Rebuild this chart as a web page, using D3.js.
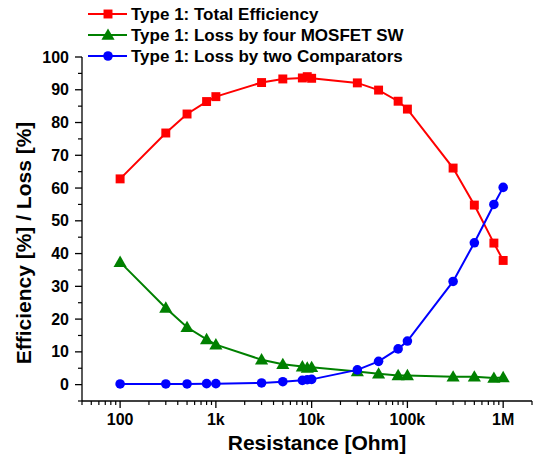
<!DOCTYPE html>
<html>
<head>
<meta charset="utf-8">
<script src="https://cdn.jsdelivr.net/npm/d3@7"></script>
<style>
  body { margin: 0; background: #fff; }
  svg { display: block; font-family: 'Liberation Sans', Arial, sans-serif; font-weight: bold; }
</style>
</head>
<body>
<svg id="chart" width="548" height="463"></svg>
<script>
// data
const resistance = [100, 300, 500, 800, 1e3, 3e3, 5e3, 8e3, 9e3, 1e4, 3e4, 5e4, 8e4, 1e5, 3e5, 5e5, 8e5, 1e6];
const totalEfficiency = [62.8, 76.8, 82.6, 86.4, 87.9, 92.2, 93.3, 93.6, 94.0, 93.5, 92.1, 89.9, 86.5, 84.1, 66.1, 54.8, 43.2, 37.9];
const lossMosfet = [37.4, 23.4, 17.5, 13.8, 12.2, 7.6, 6.2, 5.5, 5.1, 5.3, 4.0, 3.3, 2.8, 2.8, 2.4, 2.4, 2.0, 2.2];
const lossComparators = [0.2, 0.2, 0.2, 0.3, 0.3, 0.5, 0.9, 1.3, 1.5, 1.6, 4.5, 7.1, 10.9, 13.3, 31.5, 43.3, 55.0, 60.2];

const seriesNames = ['Type 1: Total Efficiency', 'Type 1: Loss by four MOSFET SW', 'Type 1: Loss by two Comparators'];
const seriesColors = ['#ff0000', '#008000', '#0000ff'];
const seriesShapes = [d3.symbolSquare, d3.symbolTriangle, d3.symbolCircle];
const xTickLabels = ['100', '1k', '10k', '100k', '1M'];
const yTicks = [0, 10, 20, 30, 40, 50, 60, 70, 80, 90, 100];

const series = [totalEfficiency, lossMosfet, lossComparators].map((vals, i) => ({
  name: seriesNames[i],
  color: seriesColors[i],
  shape: seriesShapes[i],
  points: vals.map((v, j) => ({ x: resistance[j], y: v })),
}));

const svg = d3.select('#chart');
const margin = { left: 82, right: 16, top: 57, bottom: 62 };
const W = 548, H = 463;

const x = d3.scaleLog().domain([40, 2e6]).range([margin.left, W - margin.right]);
const y = d3.scaleLinear().domain([-5, 100]).range([H - margin.bottom, margin.top]);

// x axis
const xMajor = [100, 1e3, 1e4, 1e5, 1e6];
const xMinor = [];
for (let d = 10; d <= 1e6; d *= 10) {
  for (let k = 2; k <= 9; k++) {
    const v = d * k;
    if (v >= 40 && v <= 2e6) xMinor.push(v);
  }
}
const gx = svg.append('g').attr('transform', `translate(0,${y(-5)})`);
gx.append('line')
  .attr('x1', x.range()[0]).attr('x2', x.range()[1])
  .attr('stroke', '#000').attr('stroke-width', 1.3);
gx.selectAll('.minor').data(xMinor).enter().append('line')
  .attr('x1', d => x(d)).attr('x2', d => x(d)).attr('y1', 0).attr('y2', 4)
  .attr('stroke', '#000').attr('stroke-width', 1.2);
gx.selectAll('.major').data(xMajor).enter().append('line')
  .attr('x1', d => x(d)).attr('x2', d => x(d)).attr('y1', 0).attr('y2', 7)
  .attr('stroke', '#000').attr('stroke-width', 1.3);
gx.selectAll('text').data(xMajor).enter().append('text')
  .attr('x', d => x(d)).attr('y', 23.5)
  .attr('text-anchor', 'middle')
  .style('font-size', '16px')
  .text((d, i) => xTickLabels[i]);

// y axis
const yMinor = d3.range(-5, 100, 10);
const gy = svg.append('g').attr('transform', `translate(${margin.left},0)`);
gy.append('line')
  .attr('y1', y(-5)).attr('y2', y(100))
  .attr('stroke', '#000').attr('stroke-width', 1.3);
gy.selectAll('.minor').data(yMinor).enter().append('line')
  .attr('x1', -4).attr('x2', 0).attr('y1', d => y(d)).attr('y2', d => y(d))
  .attr('stroke', '#000').attr('stroke-width', 1.2);
gy.selectAll('.major').data(yTicks).enter().append('line')
  .attr('x1', -7).attr('x2', 0).attr('y1', d => y(d)).attr('y2', d => y(d))
  .attr('stroke', '#000').attr('stroke-width', 1.3);
gy.selectAll('text').data(yTicks).enter().append('text')
  .attr('x', -13).attr('y', d => y(d))
  .attr('text-anchor', 'end').attr('dy', '0.35em')
  .style('font-size', '16px')
  .text(d => d);

// axis titles
svg.append('text')
  .attr('x', (x.range()[0] + x.range()[1]) / 2 + 10).attr('y', 450)
  .attr('text-anchor', 'middle')
  .style('font-size', '21px')
  .text('Resistance [Ohm]');
svg.append('text')
  .attr('transform', `translate(31,${(y(-5) + y(100)) / 2 + 14}) rotate(-90)`)
  .attr('text-anchor', 'middle')
  .style('font-size', '21px')
  .text('Efficiency [%] / Loss [%]');

// series
const line = d3.line().x(d => x(d.x)).y(d => y(d.y));
function sym(shape) {
  if (shape === d3.symbolSquare) return d3.symbol().type(shape).size(80)();
  if (shape === d3.symbolTriangle) return d3.symbol().type(shape).size(75)();
  return d3.symbol().type(shape).size(72)();
}

series.forEach(s => {
  const g = svg.append('g');
  g.append('path')
    .attr('d', line(s.points))
    .attr('fill', 'none')
    .attr('stroke', s.color)
    .attr('stroke-width', 2);
  g.selectAll('path.m').data(s.points).enter().append('path')
    .attr('class', 'm')
    .attr('d', sym(s.shape))
    .attr('transform', d => `translate(${x(d.x)},${y(d.y) + (s.shape === d3.symbolTriangle ? 1 : 0)})`)
    .attr('fill', s.color);
});

// legend
const legend = svg.append('g').attr('transform', 'translate(88,14)');
const rows = legend.selectAll('g').data(series).enter().append('g')
  .attr('transform', (d, i) => `translate(0,${i * 21})`);
rows.append('line')
  .attr('x1', 0).attr('x2', 39)
  .attr('stroke', d => d.color).attr('stroke-width', 2);
rows.append('path')
  .attr('d', d => sym(d.shape))
  .attr('transform', d => `translate(20,${d.shape === d3.symbolTriangle ? 1 : 0})`)
  .attr('fill', d => d.color);
rows.append('text')
  .attr('x', 43).attr('dy', '0.35em')
  .style('font-size', '17px')
  .text(d => d.name);
</script>
</body>
</html>
